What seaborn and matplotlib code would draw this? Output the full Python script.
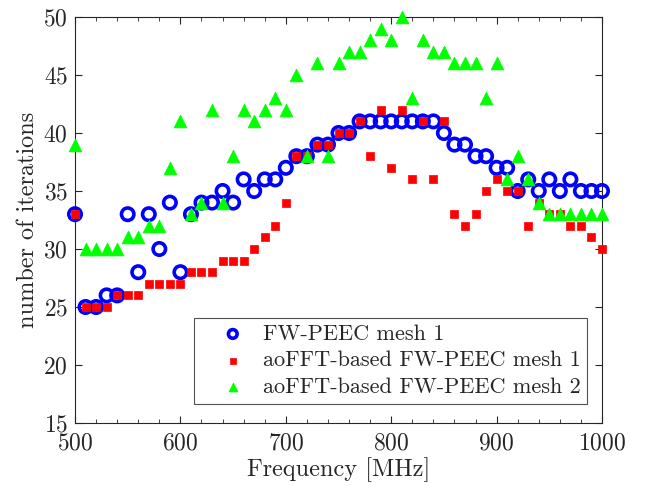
import numpy as np
import pandas as pd

import matplotlib
import matplotlib.pyplot as plt
from matplotlib.ticker import MultipleLocator
import seaborn as sns

freq = list(range(500, 1001, 10))

fw_peec_mesh1 = [
    33, 25, 25, 26, 26, 33, 28, 33, 30, 34,
    28, 33, 34, 34, 35, 34, 36, 35, 36, 36,
    37, 38, 38, 39, 39, 40, 40, 41, 41, 41,
    41, 41, 41, 41, 41, 40, 39, 39, 38, 38,
    37, 37, 35, 36, 35, 36, 35, 36, 35, 35,
    35
]

aofft_mesh1 = [
    33, 25, 25, 25, 26, 26, 26, 27, 27, 27,
    27, 28, 28, 28, 29, 29, 29, 30, 31, 32,
    34, 38, 38, 39, 39, 40, 40, 41, 38, 42,
    37, 42, 36, 41, 36, 41, 33, 32, 33, 35,
    36, 35, 35, 32, 34, 33, 33, 32, 32, 31,
    30
]

aofft_mesh2 = [
    39, 30, 30, 30, 30, 31, 31, 32, 32, 37,
    41, 33, 34, 42, 34, 38, 42, 41, 42, 43,
    42, 45, 38, 46, 38, 46, 47, 47, 48, 49,
    48, 50, 43, 48, 47, 47, 46, 46, 46, 43,
    46, 36, 38, 36, 34, 33, 33, 33, 33, 33,
    33
]

labels = [
    "FW-PEEC mesh 1",
    "aoFFT-based FW-PEEC mesh 1",
    "aoFFT-based FW-PEEC mesh 2"
]

sns.set_style("white")

plt.rcParams["font.family"] = "serif"
plt.rcParams["font.serif"] = ["cmr10", "DejaVu Serif"]
plt.rcParams["mathtext.fontset"] = "cm"
plt.rcParams["axes.formatter.use_mathtext"] = True

df = pd.DataFrame({
    "freq": freq,
    "m1": fw_peec_mesh1,
    "a1": aofft_mesh1,
    "a2": aofft_mesh2
})

fig = plt.figure(figsize=(6.45, 4.86), dpi=100)
ax = fig.add_axes([75 / 645, 1 - 423 / 486, 527 / 645, 406 / 486])

# circles first, then squares, then triangles on top
sns.scatterplot(
    data=df, x="freq", y="m1", ax=ax,
    marker="o", s=80, facecolor="none",
    edgecolor="#0000ff", linewidth=2.6,
    label=labels[0], clip_on=False, zorder=3
)

sns.scatterplot(
    data=df, x="freq", y="a1", ax=ax,
    marker="s", s=36, color="#ff0000",
    edgecolor="#ff0000", linewidth=0.5,
    label=labels[1], clip_on=False, zorder=4
)

sns.scatterplot(
    data=df, x="freq", y="a2", ax=ax,
    marker="^", s=85, color="#00ff00",
    edgecolor="#00ff00", linewidth=0.5,
    label=labels[2], clip_on=False, zorder=5
)

ax.set_xlim(500, 1000)
ax.set_ylim(15, 50)
ax.xaxis.set_major_locator(MultipleLocator(100))
ax.xaxis.set_minor_locator(MultipleLocator(20))
ax.yaxis.set_major_locator(MultipleLocator(5))

ax.tick_params(
    which="both", direction="in",
    top=True, right=True, bottom=True, left=True,
    labelsize=17, colors="#262626"
)
ax.tick_params(which="major", length=5, width=0.8)
ax.tick_params(which="minor", length=3, width=0.6)
ax.tick_params(axis="x", which="major", pad=7)
ax.tick_params(axis="y", which="major", pad=5)

for spine in ax.spines.values():
    spine.set_color("#262626")
    spine.set_linewidth(0.8)

ax.set_xlabel("Frequency [MHz]", fontsize=17.5, color="#262626", labelpad=2)
ax.set_ylabel("number of iterations", fontsize=17.5, color="#262626", labelpad=3)

leg = ax.legend(
    loc="lower right",
    bbox_to_anchor=(0.993, 0.02),
    fontsize=16,
    frameon=True,
    fancybox=False,
    edgecolor="#262626",
    handletextpad=-0.1,
    handlelength=2.9,
    borderpad=0.3,
    labelspacing=0.32,
    markerscale=0.7
)
leg.get_frame().set_linewidth(0.8)

fig.savefig("out.png", dpi=100)
plt.close(fig)
